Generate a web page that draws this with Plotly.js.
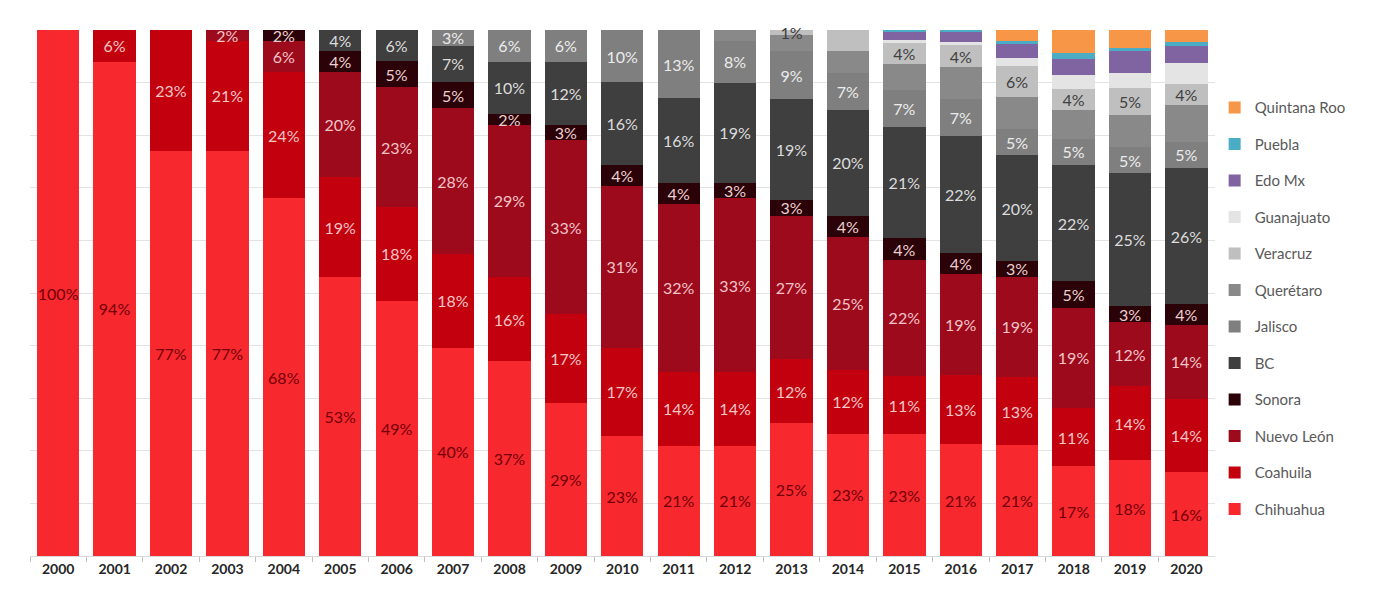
<!DOCTYPE html>
<html>
<head>
<meta charset="utf-8">
<script src="https://cdn.plot.ly/plotly-3.0.1.min.js"></script>
<style>html,body{margin:0;padding:0;background:#fff;}#chart{width:1385px;height:593px;}</style>
</head>
<body>
<div id="chart"></div>
<script>
const years = ['2000','2001','2002','2003','2004','2005','2006','2007','2008','2009','2010','2011','2012','2013','2014','2015','2016','2017','2018','2019','2020'];

const chihuahua  = [100,94,77,77,68,53,49,40,37,29,23,21,21,25,23,23,21,21,17,18,16];
const coahuila   = [0,6,23,21,24,19,18,18,16,17,17,14,14,12,12,11,13,13,11,14,14];
const nuevoLeon  = [0,0,0,2,6,20,23,28,29,33,31,32,33,27,25,22,19,19,19,12,14];
const sonora     = [0,0,0,0,2,4,5,5,2,3,4,4,3,3,4,4,4,3,5,3,4];
const bc         = [0,0,0,0,0,4,6,7,10,12,16,16,19,19,20,21,22,20,22,25,26];
const jalisco    = [0,0,0,0,0,0,0,3,6,6,10,13,8,9,7,7,7,5,5,5,5];
const queretaro  = [0,0,0,0,0,0,0,0,0,0,0,0,2,3,4,5,6,6,5.5,6,7];
const veracruz   = [0,0,0,0,0,0,0,0,0,0,0,0,0,1,4,4,4,6,4,5,4];
const guanajuato = [0,0,0,0,0,0,0,0,0,0,0,0,0,0,0,0.6,0.6,1.5,2.5,3,4];
const edoMx      = [0,0,0,0,0,0,0,0,0,0,0,0,0,0,0,1.5,2,2.7,3.2,4,3.2];
const puebla     = [0,0,0,0,0,0,0,0,0,0,0,0,0,0,0,0.3,0.3,0.6,1,0.6,0.8];
const quintanaRoo= [0,0,0,0,0,0,0,0,0,0,0,0,0,0,0,0,0,2,4.4,3.4,2.3];

const series = [
  {name:'Chihuahua',   y:chihuahua,   color:'#f8282f', label:true,  tcolor:'#720008'},
  {name:'Coahuila',    y:coahuila,    color:'#c2000e', label:true,  tcolor:'#f6c6c6'},
  {name:'Nuevo León',  y:nuevoLeon,   color:'#9d0a1c', label:true,  tcolor:'#f2c4c8'},
  {name:'Sonora',      y:sonora,      color:'#2a0207', label:true,  tcolor:'#ecd0d0'},
  {name:'BC',          y:bc,          color:'#3f3f3f', label:true,  tcolor:'#dcdcdc'},
  {name:'Jalisco',     y:jalisco,     color:'#7f7f7f', label:true,  tcolor:'#ececec'},
  {name:'Querétaro',   y:queretaro,   color:'#898989', label:false, tcolor:'#ececec'},
  {name:'Veracruz',    y:veracruz,    color:'#bfbfbf', label:true,  tcolor:'#404040'},
  {name:'Guanajuato',  y:guanajuato,  color:'#e4e4e4', label:false, tcolor:'#404040'},
  {name:'Edo Mx',      y:edoMx,       color:'#8064a2', label:false, tcolor:'#fff'},
  {name:'Puebla',      y:puebla,      color:'#4bacc6', label:false, tcolor:'#fff'},
  {name:'Quintana Roo',y:quintanaRoo, color:'#f79646', label:false, tcolor:'#fff'}
];

const traces = series.map((s, i) => ({
  type:'bar',
  name:s.name,
  legendgroup:s.name,
  legendrank: 100 - i,
  x:years,
  y:s.y,
  marker:{color:s.color, line:{width:0}},
  text: s.label ? s.y.map(v => v ? v + '%' : '') : undefined,
  textposition: s.label ? 'inside' : 'none',
  insidetextanchor:'middle',
  textangle:0,
  constraintext:'none',
  cliponaxis:false,
  textfont:{family:'Lato, "Open Sans", sans-serif', size:16, color:s.tcolor},
  hoverinfo:'x+y+name'
}));

const layout = {
  width:1385, height:593,
  margin:{l:30, r:158, t:30, b:37},
  barmode:'stack',
  barnorm:'percent',
  bargap:0.25,
  paper_bgcolor:'#fff',
  plot_bgcolor:'#fff',
  showlegend:true,
  legend:{
    traceorder:'grouped',
    tracegroupgap:14,
    maxheight:560,
    xref:'container', yref:'container',
    x:0.877, xanchor:'left',
    y:0.846, yanchor:'top',
    font:{family:'Lato, "Open Sans", sans-serif', size:15, color:'#595959'},
    bgcolor:'rgba(0,0,0,0)'
  },
  xaxis:{
    type:'category',
    showline:true, linecolor:'#d9d9d9', linewidth:1,
    ticks:'outside', tickson:'boundaries', ticklen:5, tickcolor:'#bfbfbf',
    tickfont:{family:'Lato, "Open Sans", sans-serif', size:14, color:'#262626', weight:'bold'},
    showgrid:false
  },
  yaxis:{
    range:[0,100],
    dtick:10,
    showticklabels:false,
    showgrid:true, gridcolor:'#e3e3e3', gridwidth:1,
    zeroline:false, showline:false, ticks:''
  }
};

Plotly.newPlot('chart', traces, layout, {displayModeBar:false, staticPlot:true});
</script>
</body>
</html>
